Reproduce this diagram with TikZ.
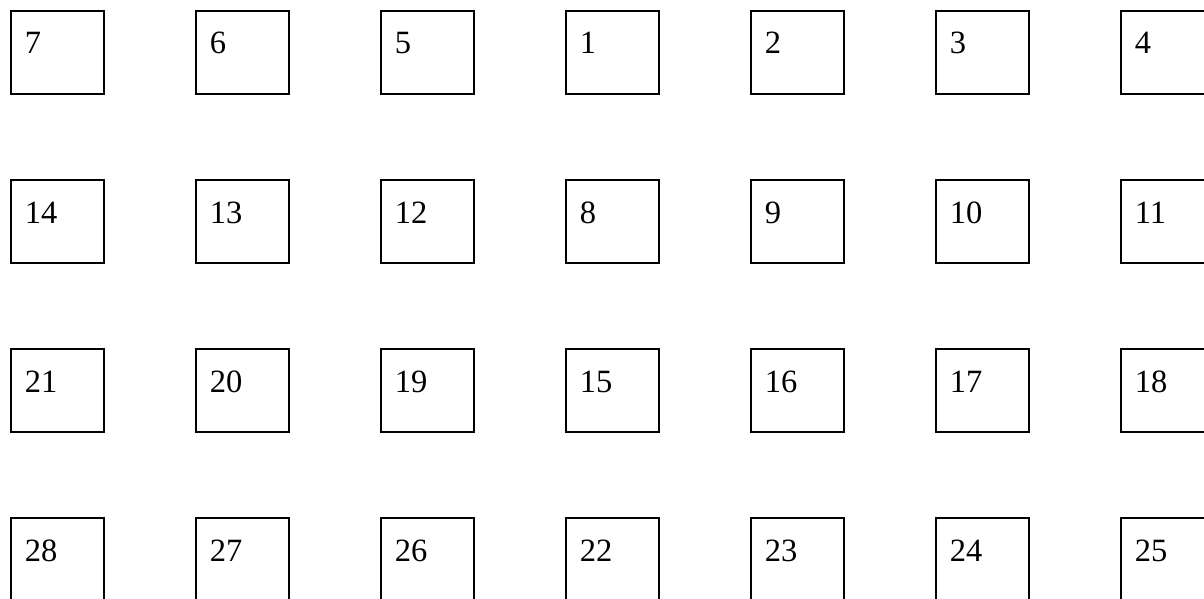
\documentclass[tikz,border=0pt]{standalone}
\usepackage{fontspec}
\setmainfont{Liberation Serif}
\usepackage{tikz}
\usetikzlibrary{positioning}

\begin{document}
\begin{tikzpicture}[
  x=0.5pt, y=-0.5pt,
  node distance=42pt and 45pt,
  cell/.style={draw, line width=1pt, rectangle, align=left,
               minimum width=46.5pt, minimum height=41.5pt,
               text width=32.5pt, inner xsep=7pt, inner ysep=10.5pt,
               text height=11pt, text depth=9.5pt,
               font=\fontsize{16.25}{19}\selectfont},
]
\useasboundingbox (0,0) rectangle (1204,599);
\clip (0,0) rectangle (1204,599);

% first row
\node[cell] (b7) at (57.25,52.5) {7};
\node[cell, right=of b7] (b6) {6};
\node[cell, right=of b6] (b5) {5};
\node[cell, right=of b5] (b1) {1};
\node[cell, right=of b1] (b2) {2};
\node[cell, right=of b2] (b3) {3};
\node[cell, right=of b3] (b4) {4};

% second row
\node[cell, below=of b7] (b14) {14};
\node[cell, right=of b14] (b13) {13};
\node[cell, right=of b13] (b12) {12};
\node[cell, right=of b12] (b8) {8};
\node[cell, right=of b8] (b9) {9};
\node[cell, right=of b9] (b10) {10};
\node[cell, right=of b10] (b11) {11};

% third row
\node[cell, below=of b14] (b21) {21};
\node[cell, right=of b21] (b20) {20};
\node[cell, right=of b20] (b19) {19};
\node[cell, right=of b19] (b15) {15};
\node[cell, right=of b15] (b16) {16};
\node[cell, right=of b16] (b17) {17};
\node[cell, right=of b17] (b18) {18};

% fourth row
\node[cell, below=of b21] (b28) {28};
\node[cell, right=of b28] (b27) {27};
\node[cell, right=of b27] (b26) {26};
\node[cell, right=of b26] (b22) {22};
\node[cell, right=of b22] (b23) {23};
\node[cell, right=of b23] (b24) {24};
\node[cell, right=of b24] (b25) {25};
\end{tikzpicture}
\end{document}
